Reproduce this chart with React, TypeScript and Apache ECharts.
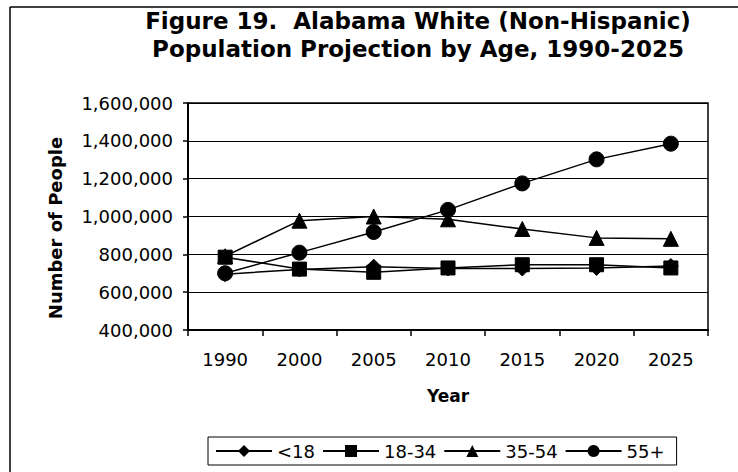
import React, { useEffect, useRef } from "react";
import * as echarts from "echarts";

const years = ["1990", "2000", "2005", "2010", "2015", "2020", "2025"];
const under18 = [695000, 720000, 735000, 725000, 725000, 728000, 738000];
const age18to34 = [785000, 722000, 705000, 728000, 745000, 745000, 728000];
const age35to54 = [790000, 978000, 1000000, 985000, 934000, 887000, 882000];
const age55plus = [700000, 809000, 918000, 1035000, 1175000, 1302000, 1385000];
const seriesNames = ["<18", "18-34", "35-54", "55+"];
const yMin = 400000;
const yMax = 1600000;
const yStep = 200000;

const FONT = "DejaVu Sans";

export default function App() {
  const ref = useRef<HTMLDivElement>(null);
  useEffect(() => {
    if (!ref.current) return;
    const chart = echarts.init(ref.current, undefined, { renderer: "svg" });
    const mk = (name: string, data: number[], symbol: string, size: number, z: number) => ({
      name,
      type: "line",
      data,
      symbol,
      symbolSize: size,
      z,
      lineStyle: { color: "#000", width: 1.5 },
      itemStyle: { color: "#000", borderColor: "#000" },
      emphasis: { disabled: true },
    });
    chart.setOption({
      animation: false,
      backgroundColor: "#fff",
      title: {
        text: "Figure 19.  Alabama White (Non-Hispanic)\nPopulation Projection by Age, 1990-2025",
        left: 413,
        top: 2,
        textAlign: "center",
        textStyle: {
          fontFamily: FONT,
          fontWeight: "bold",
          fontSize: 23,
          lineHeight: 28,
          color: "#000",
        },
      },
      graphic: [
        { type: "line", shape: { x1: 10, y1: 7, x2: 738, y2: 7 }, style: { stroke: "#000", lineWidth: 1.5 } },
        { type: "line", shape: { x1: 10, y1: 7, x2: 10, y2: 472 }, style: { stroke: "#000", lineWidth: 1.5 } },
      ],
      legend: {
        data: seriesNames,
        left: 208,
        top: 437,
        padding: [5, 12, 5, 7],
        itemGap: 7,
        itemWidth: 56,
        itemHeight: 15,
        borderColor: "#000",
        borderWidth: 1,
        backgroundColor: "#fff",
        textStyle: { fontFamily: FONT, fontSize: 18, color: "#000" },
      },
      grid: {
        left: 188,
        right: 30,
        top: 103,
        bottom: 142,
        show: true,
        borderColor: "#000",
        borderWidth: 1.5,
        backgroundColor: "#fff",
      },
      xAxis: {
        type: "category",
        data: years,
        boundaryGap: true,
        name: "Year",
        nameLocation: "middle",
        nameGap: 57,
        nameTextStyle: { fontFamily: FONT, fontWeight: "bold", fontSize: 17, color: "#000" },
        axisLine: { lineStyle: { color: "#000", width: 2 } },
        axisTick: { show: true, length: 6, inside: false, lineStyle: { color: "#000", width: 1.5 } },
        axisLabel: { margin: 20, fontFamily: FONT, fontSize: 18, color: "#000", interval: 0 },
        splitLine: { show: false },
      },
      yAxis: {
        type: "value",
        min: yMin,
        max: yMax,
        interval: yStep,
        name: "Number of People",
        nameLocation: "middle",
        nameGap: 124,
        nameTextStyle: {
          fontFamily: FONT,
          fontWeight: "bold",
          fontSize: 18,
          color: "#000",
          padding: [0, 23, 0, 0],
        },
        axisLine: { show: true, lineStyle: { color: "#000", width: 2 } },
        axisTick: { show: true, length: 5, lineStyle: { color: "#000", width: 1.5 } },
        axisLabel: {
          margin: 15,
          fontFamily: FONT,
          fontSize: 18,
          color: "#000",
          formatter: (v: number) => v.toLocaleString("en-US"),
        },
        splitLine: { show: true, lineStyle: { color: "#000", width: 1 } },
      },
      series: [
        mk(seriesNames[0], under18, "diamond", 15, 2),
        mk(seriesNames[1], age18to34, "rect", 14, 4),
        mk(seriesNames[2], age35to54, "triangle", 15, 3),
        mk(seriesNames[3], age55plus, "circle", 15, 3),
      ],
    });
    return () => chart.dispose();
  }, []);
  return (
    <div
      ref={ref}
      style={{ position: "fixed", left: 0, top: 0, width: 738, height: 472 }}
    />
  );
}
